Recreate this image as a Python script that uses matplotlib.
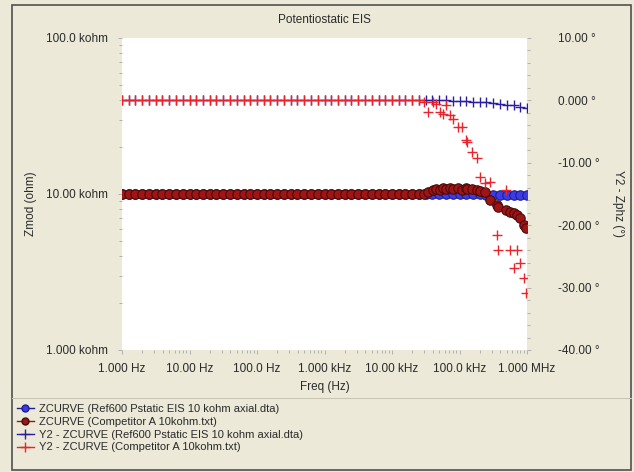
import matplotlib
matplotlib.use("Agg")
import matplotlib.pyplot as plt
from matplotlib.lines import Line2D
from matplotlib.patches import Rectangle
from matplotlib.ticker import FixedLocator, NullFormatter, LogLocator

# ---- data ----
# reference cell, 10 points/decade, 1 Hz .. 1 MHz
ref_freq = [1.0, 1.26, 1.58, 2.0, 2.51, 3.16, 3.98, 5.01, 6.31, 7.94,
            10.0, 12.6, 15.8, 20.0, 25.1, 31.6, 39.8, 50.1, 63.1, 79.4,
            100.0, 126.0, 158.0, 200.0, 251.0, 316.0, 398.0, 501.0, 631.0, 794.0,
            1000.0, 1260.0, 1580.0, 2000.0, 2510.0, 3160.0, 3980.0, 5010.0, 6310.0, 7940.0,
            10000.0, 12600.0, 15800.0, 20000.0, 25100.0, 31600.0, 39800.0, 50100.0, 63100.0, 79400.0,
            100000.0, 126000.0, 158000.0, 200000.0, 251000.0, 316000.0, 398000.0, 501000.0, 631000.0, 794000.0,
            1000000.0]
ref_zmod = [10000, 10000, 10000, 10000, 10000, 10000, 10000, 10000, 10000, 10000,
            10000, 10000, 10000, 10000, 10000, 10000, 10000, 10000, 10000, 10000,
            10000, 10000, 10000, 10000, 10000, 10000, 10000, 10000, 10000, 10000,
            10000, 10000, 10000, 10000, 10000, 10000, 10000, 10000, 10000, 10000,
            10000, 10000, 10000, 10000, 10000, 10000, 10000, 10000, 10000, 10000,
            10000, 10000, 10000, 9950, 9900, 9900, 9880, 9880, 9870, 9860,
            9850]
ref_phase = [0.0, 0.0, 0.0, 0.0, 0.0, 0.0, 0.0, 0.0, 0.0, 0.0,
             0.0, 0.0, 0.0, 0.0, 0.0, 0.0, 0.0, 0.0, 0.0, 0.0,
             0.0, 0.0, 0.0, 0.0, 0.0, 0.0, 0.0, 0.0, 0.0, 0.0,
             0.0, 0.0, 0.0, 0.0, 0.0, 0.0, 0.0, 0.0, 0.0, 0.0,
             0.0, 0.0, 0.0, 0.0, 0.0, 0.0, 0.0, 0.0, 0.0, -0.1,
             -0.1, -0.1, -0.2, -0.3, -0.3, -0.4, -0.5, -0.7, -0.8, -1.0,
             -1.2]

# competitor file, same grid up to 25 kHz then its own points
comp_freq = [1.0, 1.26, 1.58, 2.0, 2.51, 3.16, 3.98, 5.01, 6.31, 7.94,
             10.0, 12.6, 15.8, 20.0, 25.1, 31.6, 39.8, 50.1, 63.1, 79.4,
             100.0, 126.0, 158.0, 200.0, 251.0, 316.0, 398.0, 501.0, 631.0, 794.0,
             1000.0, 1260.0, 1580.0, 2000.0, 2510.0, 3160.0, 3980.0, 5010.0, 6310.0, 7940.0,
             10000.0, 12600.0, 15800.0, 20000.0, 25100.0,
             30000.0, 34000.0, 40000.0, 45000.0, 51000.0, 57000.0, 64000.0, 72000.0, 80000.0, 95000.0,
             110000.0, 125000.0, 130000.0, 153000.0, 182000.0, 200000.0, 240000.0, 280000.0, 360000.0, 370000.0,
             490000.0, 560000.0, 640000.0, 710000.0, 800000.0, 910000.0, 970000.0]
comp_zmod = [10000, 10000, 10000, 10000, 10000, 10000, 10000, 10000, 10000, 10000,
             10000, 10000, 10000, 10000, 10000, 10000, 10000, 10000, 10000, 10000,
             10000, 10000, 10000, 10000, 10000, 10000, 10000, 10000, 10000, 10000,
             10000, 10000, 10000, 10000, 10000, 10000, 10000, 10000, 10000, 10000,
             10000, 10000, 10000, 10000, 10000,
             10050, 10300, 10600, 10800, 10600, 10900, 10700, 10900, 10800, 10900,
             10600, 10900, 10700, 10800, 10600, 10500, 10300, 9200, 8500, 8200,
             7900, 7700, 7500, 7300, 7000, 6300, 6050]
comp_phase = [0.0, 0.0, 0.0, 0.0, 0.0, 0.0, 0.0, 0.0, 0.0, 0.0,
              0.0, 0.0, 0.0, 0.0, 0.0, 0.0, 0.0, 0.0, 0.0, 0.0,
              0.0, 0.0, 0.0, 0.0, 0.0, 0.0, 0.0, 0.0, 0.0, 0.0,
              0.0, 0.0, 0.0, 0.0, 0.0, 0.0, 0.0, 0.0, 0.0, 0.0,
              0.0, 0.0, 0.0, 0.0, 0.0,
              -0.3, -1.9, -0.2, -0.5, -1.9, -2.1, -0.8, -2.4, -3.0, -4.3,
              -4.3, -6.4, -6.7, -8.3, -9.3, -12.3, -13.2, -13.0, -21.6, -24.0,
              -14.4, -24.0, -26.8, -24.0, -26.0, -28.5, -30.9]

x_ticks = [1, 10, 100, 1e3, 1e4, 1e5, 1e6]
x_labels = ["1.000 Hz", "10.00 Hz", "100.0 Hz", "1.000 kHz", "10.00 kHz", "100.0 kHz", "1.000 MHz"]
z_ticks = [1e3, 1e4, 1e5]
z_labels = ["1.000 kohm", "10.00 kohm", "100.0 kohm"]
ph_ticks = [-40, -30, -20, -10, 0, 10]
ph_labels = ["-40.00 \u00b0", "-30.00 \u00b0", "-20.00 \u00b0", "-10.00 \u00b0", "0.000 \u00b0", "10.00 \u00b0"]

legend_labels = ["ZCURVE (Ref600 Pstatic EIS 10 kohm axial.dta)",
                 "ZCURVE (Competitor A 10kohm.txt)",
                 "Y2 - ZCURVE (Ref600 Pstatic EIS 10 kohm axial.dta)",
                 "Y2 - ZCURVE (Competitor A 10kohm.txt)"]

plt.rcParams['font.family'] = ['Liberation Sans', 'DejaVu Sans']
bg = "#ECE9D8"
tick_col = "#A8A8A8"
txt_col = "#2A2A2A"
fs = 8.5

W, H = 634, 472
fig = plt.figure(figsize=(W / 100, H / 100), dpi=100, facecolor=bg)

ax = fig.add_axes([122 / W, 1 - 350 / H, (527 - 122) / W, (350 - 38) / H])
ax.set_facecolor("white")
ax.set_xscale("log")
ax.set_yscale("log")
ax.set_xlim(1, 1e6)
ax.set_ylim(1e3, 1e5)

ax2 = ax.twinx()
ax2.set_ylim(-40, 10)

blue_c = dict(marker="o", ms=6.8, mfc="#3C3CE6", mec="#1E1E8C", mew=0.8, ls="none")
red_c = dict(marker="o", ms=6.8, mfc="#A01414", mec="#4A0A0A", mew=0.8, ls="none")
ax.plot(ref_freq, ref_zmod, **blue_c)
ax.plot(comp_freq, comp_zmod, **red_c)

ax2.plot(ref_freq, ref_phase, marker="+", ms=7.5, mew=1.0, color="#2A1E9E", ls="none")
ax2.plot(comp_freq, comp_phase, marker="+", ms=7.5, mew=1.0, color="#E8242C", ls="none")

for a in (ax, ax2):
    for s in a.spines.values():
        s.set_visible(False)

ax.set_xticks(x_ticks)
ax.set_xticklabels(x_labels, fontsize=fs)
ax.xaxis.set_minor_locator(LogLocator(base=10, subs=range(2, 10)))
ax.xaxis.set_minor_formatter(NullFormatter())
ax.set_yticks(z_ticks)
ax.set_yticklabels(z_labels, fontsize=fs)
ax.yaxis.set_minor_locator(LogLocator(base=10, subs=range(2, 10)))
ax.yaxis.set_minor_formatter(NullFormatter())
ax.tick_params(which="both", colors=tick_col, labelcolor=txt_col, length=3, width=0.6, pad=7)
ax.tick_params(axis="x", pad=6)
ax.tick_params(which="minor", length=2)

ax2.set_yticks(ph_ticks)
ax2.set_yticklabels(ph_labels, fontsize=fs)
ax2.yaxis.set_minor_locator(FixedLocator(range(-40, 11, 2)))
ax2.tick_params(which="both", colors=tick_col, labelcolor=txt_col, length=3, width=0.6, pad=19)
ax2.tick_params(which="minor", length=2)

ax.set_title("Potentiostatic EIS", fontsize=fs, color=txt_col, pad=11)
ax.set_xlabel("Freq (Hz)", fontsize=fs, color=txt_col, labelpad=5)
ax.set_ylabel("Zmod (ohm)", fontsize=fs, color=txt_col)
ax2.set_ylabel("Y2 - Zphz (\u00b0)", fontsize=fs, color=txt_col, rotation=270)
ax.yaxis.set_label_coords(-0.21, 0.47)
ax2.yaxis.set_label_coords(1.24, 0.47)

# window frame and legend divider
fig.add_artist(Rectangle((12 / W, 1 - 470 / H), (631 - 12) / W, (470 - 5) / H,
                         transform=fig.transFigure, fill=False, ec="#505050", lw=1.2))
fig.add_artist(Line2D([12 / W, 631 / W], [1 - 398 / H, 1 - 398 / H],
                      transform=fig.transFigure, color="#C8C5B4", lw=0.8))

handles = [Line2D([], [], color="#1E1E8C", marker="o", ms=5, mfc="#3C3CE6", mec="#1E1E8C", lw=1),
           Line2D([], [], color="#A01414", marker="o", ms=5, mfc="#A01414", mec="#4A0A0A", lw=1),
           Line2D([], [], color="#2A1E9E", marker="+", ms=7, mew=1, lw=1),
           Line2D([], [], color="#E8242C", marker="+", ms=7, mew=1, lw=1)]
fig.legend(handles, legend_labels, loc="upper left", bbox_to_anchor=(16 / W, 1 - 403 / H),
           frameon=False, fontsize=8, handlelength=1.5, handletextpad=0.5,
           labelspacing=0.25, borderpad=0.1, borderaxespad=0, labelcolor=txt_col)

fig.savefig("out.png", dpi=100, facecolor=bg)
